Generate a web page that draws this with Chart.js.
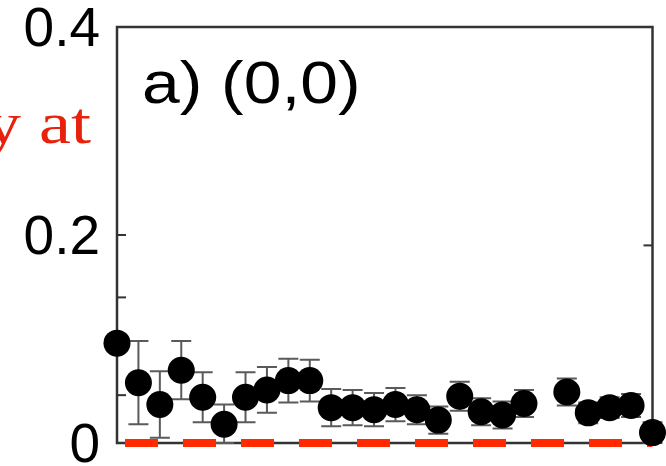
<!DOCTYPE html>
<html>
<head>
<meta charset="utf-8">
<style>
  html, body { margin: 0; padding: 0; background: #fff; }
  #wrap { width: 666px; height: 466px; }
</style>
<script src="https://cdn.jsdelivr.net/npm/chart.js@4/dist/chart.umd.min.js"></script>
</head>
<body>
<div id="wrap"><canvas id="chart"></canvas></div>
<script>
// x positions of the measured points (index 20 has no data)
const xValues = [0, 1, 2, 3, 4, 5, 6, 7, 8, 9, 10, 11, 12, 13, 14, 15, 16, 17, 18, 19, 20, 21, 22, 23, 24, 25];
const yValues = [0.096, 0.058, 0.037, 0.070, 0.044, 0.018, 0.044, 0.051, 0.060, 0.060,
                 0.034, 0.034, 0.032, 0.037, 0.032, 0.022, 0.045, 0.030, 0.027, 0.038,
                 null, 0.049, 0.029, 0.034, 0.036, 0.010];
const yErrors = [0, 0.040, 0.032, 0.028, 0.024, 0.019, 0.024, 0.022, 0.021, 0.020,
                 0.018, 0.017, 0.016, 0.016, 0.014, 0.013, 0.014, 0.013, 0.013, 0.013,
                 null, 0.013, 0.010, 0.010, 0.011, 0.010];
// red dashed reference line at zero
const refX = [0, 25];
const refY = [0, 0];
// axis ticks
const yMajorTicks = [0, 0.2, 0.4];
const yMinorTicksLeft = [0.046, 0.14];
const yMinorTicksRight = [0.19];
const panelLabel = 'a) (0,0)';
const sideText = 'y at';

const points = xValues.map((x, i) => ({ x: x, y: yValues[i] }));
const refLine = refX.map((x, i) => ({ x: x, y: refY[i] }));

// frame, inward ticks and error bars, drawn under the markers
const framePlugin = {
  id: 'frame',
  beforeDatasetsDraw(chart) {
    const { ctx, chartArea: a, scales } = chart;
    const ys = scales.y, xs = scales.x;
    ctx.save();
    ctx.strokeStyle = '#333';
    ctx.lineWidth = 2.5;
    ctx.strokeRect(a.left, a.top, a.right - a.left, a.bottom - a.top);

    ctx.lineWidth = 2;
    yMajorTicks.concat(yMinorTicksLeft).forEach(v => {
      const py = ys.getPixelForValue(v);
      ctx.beginPath();
      ctx.moveTo(a.left, py);
      ctx.lineTo(a.left + 9, py);
      ctx.stroke();
    });
    yMinorTicksRight.forEach(v => {
      const py = ys.getPixelForValue(v);
      ctx.beginPath();
      ctx.moveTo(a.right, py);
      ctx.lineTo(a.right - 9, py);
      ctx.stroke();
    });

    // error bars
    ctx.strokeStyle = '#5a5a5a';
    ctx.lineWidth = 2;
    xValues.forEach((x, i) => {
      if (yValues[i] === null || !yErrors[i]) return;
      const px = xs.getPixelForValue(x);
      const top = ys.getPixelForValue(yValues[i] + yErrors[i]);
      const bot = ys.getPixelForValue(Math.max(0, yValues[i] - yErrors[i]));
      ctx.beginPath();
      ctx.moveTo(px, top); ctx.lineTo(px, bot);
      ctx.moveTo(px - 10, top); ctx.lineTo(px + 10, top);
      ctx.moveTo(px - 10, bot); ctx.lineTo(px + 10, bot);
      ctx.stroke();
    });
    ctx.restore();
  },
  afterDraw(chart) {
    const { ctx } = chart;
    ctx.save();
    // panel label
    ctx.translate(142, 103);
    ctx.scale(1.13, 1);
    ctx.fillStyle = '#000';
    ctx.font = '60px "Liberation Sans", Arial, sans-serif';
    ctx.textAlign = 'left';
    ctx.textBaseline = 'alphabetic';
    ctx.fillText(panelLabel, 0, 0);
    ctx.restore();

    // cut-off red annotation on the left
    ctx.save();
    ctx.translate(91, 143);
    ctx.scale(1.2, 1);
    ctx.fillStyle = '#e8210c';
    ctx.font = '60px "Liberation Serif", "Times New Roman", serif';
    ctx.textAlign = 'right';
    ctx.fillText(sideText, 0, 0);
    ctx.restore();
  }
};

const ctx = document.getElementById('chart').getContext('2d');
new Chart(ctx, {
  type: 'scatter',
  data: {
    datasets: [
      {
        label: 'data',
        data: points,
        order: 0,
        pointRadius: 13.5,
        pointHoverRadius: 13.5,
        pointBackgroundColor: '#000',
        pointBorderColor: '#000',
        pointBorderWidth: 0,
        showLine: false,
        clip: false
      },
      {
        label: 'zero',
        type: 'line',
        data: refLine,
        order: 1,
        borderColor: '#ff2a00',
        borderWidth: 8,
        borderDash: [33, 25],
        borderDashOffset: 50,
        borderCapStyle: 'butt',
        pointRadius: 0,
        fill: false,
        clip: false
      }
    ]
  },
  options: {
    responsive: true,
    maintainAspectRatio: false,
    animation: false,
    events: [],
    layout: { padding: { top: 27, right: 5, bottom: 23, left: 0 } },
    plugins: {
      legend: { display: false },
      tooltip: { enabled: false }
    },
    scales: {
      x: {
        type: 'linear',
        min: 0,
        max: 25,
        display: false
      },
      y: {
        type: 'linear',
        min: 0,
        max: 0.4,
        grid: { display: false, drawTicks: false },
        border: { display: false },
        afterBuildTicks(scale) {
          scale.ticks = yMajorTicks.map(v => ({ value: v }));
        },
        afterFit(scale) {
          scale.width = 117;
          scale.paddingTop = 0;
          scale.paddingBottom = 0;
        },
        ticks: {
          padding: 17,
          color: '#000',
          labelOffset: 4,
          font: { family: '"Liberation Sans", Arial, sans-serif', size: 55, lineHeight: 1 }
        }
      }
    }
  },
  plugins: [framePlugin]
});
</script>
</body>
</html>
